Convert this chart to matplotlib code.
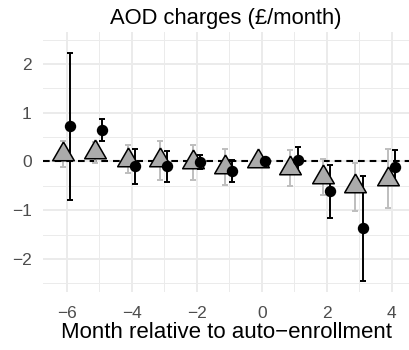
import numpy as np
import matplotlib
matplotlib.use("Agg")
import matplotlib.pyplot as plt

plt.rcParams['font.family'] = ['Liberation Sans', 'DejaVu Sans']

# months relative to auto-enrollment
months = np.array([-6, -5, -4, -3, -2, -1, 0, 1, 2, 3, 4])

# black series (circles)
black_est = np.array([0.72, 0.64, -0.10, -0.10, -0.01, -0.19, 0.0, 0.03, -0.61, -1.37, -0.12])
black_lo = np.array([-0.79, 0.43, -0.46, -0.43, -0.16, -0.43, 0.0, -0.23, -1.15, -2.45, -0.48])
black_hi = np.array([2.23, 0.87, 0.25, 0.21, 0.14, 0.04, 0.0, 0.29, -0.08, -0.29, 0.24])

# grey series (triangles)
grey_est = np.array([0.15, 0.19, 0.04, 0.03, -0.01, -0.12, 0.0, -0.14, -0.32, -0.51, -0.35])
grey_lo = np.array([-0.12, -0.03, -0.24, -0.38, -0.38, -0.49, 0.0, -0.51, -0.69, -1.02, -0.96])
grey_hi = np.array([0.43, 0.41, 0.34, 0.43, 0.34, 0.25, 0.0, 0.23, 0.06, -0.03, 0.26])

x_ticks = [-6, -4, -2, 0, 2, 4]
y_ticks = [-2, -1, 0, 1, 2]

fig = plt.figure(figsize=(4.09, 3.5), dpi=100)
ax = fig.add_axes([0.1059, 0.1666, 0.8941, 0.742])

# light ggplot-style grid
for v in range(-7, 6):
    ax.axvline(v, color='#EBEBEB', lw=1.4 if v % 2 == 0 else 0.7, zorder=0)
for v in np.arange(-2.5, 3.0, 0.5):
    ax.axhline(v, color='#EBEBEB', lw=1.4 if float(v).is_integer() else 0.7, zorder=0)

ax.axhline(0, color='black', lw=1.5, ls=(0, (3.2, 2.4)), zorder=1)

xg = months - 0.12
xb = months + 0.10
has_ci = grey_hi > grey_lo
ax.errorbar(xg[has_ci], grey_est[has_ci],
            yerr=[grey_est[has_ci] - grey_lo[has_ci], grey_hi[has_ci] - grey_est[has_ci]],
            fmt='none', ecolor='#BEBEBE', elinewidth=1.4, capsize=2.3, capthick=1.4, zorder=2)
has_ci = black_hi > black_lo
ax.errorbar(xb[has_ci], black_est[has_ci],
            yerr=[black_est[has_ci] - black_lo[has_ci], black_hi[has_ci] - black_est[has_ci]],
            fmt='none', ecolor='black', elinewidth=1.4, capsize=2.3, capthick=1.4, zorder=3)

tri = [(0, 1), (-0.866, -0.5), (0.866, -0.5), (0, 1)]
ax.plot(xg, grey_est, ls='none', marker=tri, ms=18, mfc='#ABABAB', mec='black', mew=1.1, zorder=4)
ax.plot(xb, black_est, ls='none', marker='o', ms=7.2, mfc='black', mec='black', zorder=5)

ax.set_xlim(-6.72, 4.53)
ax.set_ylim(-2.67, 2.656)
ax.set_xticks(x_ticks)
ax.set_yticks(y_ticks)
ax.tick_params(length=0, labelsize=12.5, labelcolor='#4D4D4D')
ax.tick_params(axis='y', pad=8.3)
ax.tick_params(axis='x', pad=10)
for s in ax.spines.values():
    s.set_visible(False)

ax.set_title('AOD charges (£/month)', fontsize=15.8, pad=5.5)
ax.set_xlabel('Month relative to auto\u2212enrollment', fontsize=16, labelpad=1)

fig.savefig('out.png', dpi=100)
